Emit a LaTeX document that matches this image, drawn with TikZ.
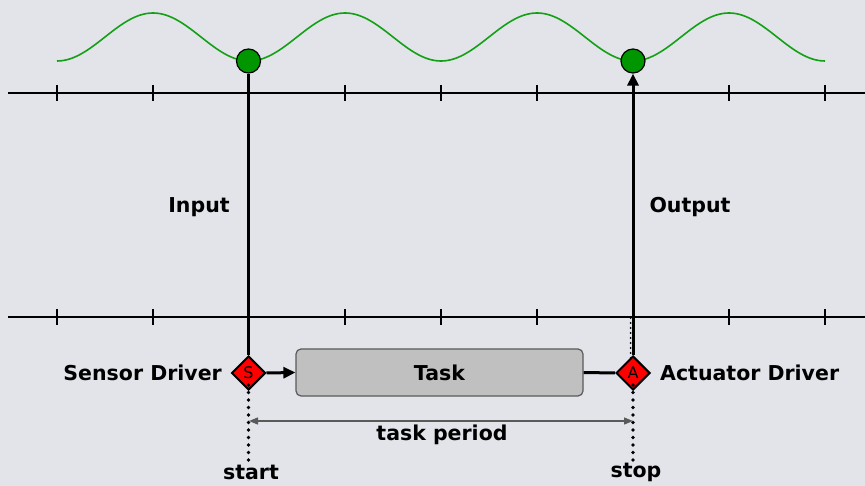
\documentclass[tikz,border=0pt]{standalone}
\usepackage{fontspec}
\setmainfont{DejaVu Sans}
\usetikzlibrary{shapes.geometric,arrows.meta}
\definecolor{bg}{RGB}{226,228,234}
\definecolor{wave}{RGB}{20,160,20}
\definecolor{dotg}{RGB}{0,150,0}
\definecolor{taskfill}{RGB}{192,192,192}
\definecolor{taskedge}{RGB}{90,90,90}
\definecolor{periodc}{RGB}{90,90,90}
\tikzset{
  lbl/.style={font=\bfseries\fontsize{20.5}{24}\selectfont, inner sep=0pt},
  axis/.style={line width=2pt, black},
  tick/.style={line width=2pt, black},
  gdot/.style={circle, fill=dotg, draw=black, line width=1.2pt, minimum size=24pt, inner sep=0pt},
  drv/.style={diamond, fill=red, draw=black, line width=2pt, minimum size=34pt, inner sep=0pt, font=\fontsize{16}{16}\selectfont},
  taskbox/.style={rectangle, rounded corners=5pt, fill=taskfill, draw=taskedge, line width=1.2pt, minimum width=287pt, minimum height=47pt, inner sep=0pt, font=\bfseries\fontsize{20.5}{24}\selectfont},
  sig/.style={line width=3pt, black},
  dotline/.style={line width=3.6pt, line cap=round, dash pattern=on 0pt off 7.5pt, black},
}
\begin{document}
\begin{tikzpicture}[x=1pt,y=-1pt]
\fill[bg] (0,0) rectangle (865,486);
\useasboundingbox (0,0) rectangle (865,486);
% axes
\coordinate (ta0) at (8,93); \coordinate (ta1) at (865,93);
\coordinate (ba0) at (8,317); \coordinate (ba1) at (865,317);
\draw[axis] (ta0) -- (ta1);
\draw[axis] (ba0) -- (ba1);
\foreach \t in {57,153,249,345,441,537,633,729,825}{
  \draw[tick] (\t,85) -- (\t,101);
  \draw[tick] (\t,309) -- (\t,325);
}
% wave
\draw[wave, line width=1.6pt, smooth] plot[domain=57:825, samples=161] (\x,{37+24*cos(1.875*(\x-57))});
% dots
\node[gdot] (in) at (248.5,61) {};
\node[gdot] (out) at (633,61) {};
% drivers
\node[drv] (S) at (248.5,373) {S};
\node[drv] (A) at (633,373) {A};
\node[taskbox] (task) at (439.5,372.5) {Task};
% signals
\draw[sig] (in.south) -- (S.north);
\draw[sig, -{Triangle[length=12pt,width=11pt]}] (A.north) -- (out.south);
\draw[sig, -{Triangle[length=12pt,width=11pt]}] (S.east) -- (task.west);
\draw[sig] (task.east) -- (A.west);
% dotted
\coordinate (sd) at (248.5,462);
\coordinate (ad) at (633,462);
\coordinate (au) at (630.5,318);
\coordinate (al) at (630.5,360);
\draw[dotline] ([yshift=6pt]S.south) -- (sd);
\draw[dotline] ([yshift=6pt]A.south) -- (ad);
\draw[line width=2pt, line cap=round, dash pattern=on 0pt off 5pt] (au) -- (al);
% period
\coordinate (p0) at (249,421); \coordinate (p1) at (633,421);
\draw[periodc, line width=1.3pt, {Triangle[length=9pt,width=7pt]}-{Triangle[length=9pt,width=7pt]}] (p0) -- (p1);
\node[lbl] (period) at (442,435) {task period};
% labels
\node[lbl] (inl) at (199,207) {Input};
\node[lbl] (outl) at (690,207) {Output};
\node[lbl, anchor=east] (sdl) at (222,373) {Sensor Driver};
\node[lbl, anchor=west] (adl) at (660,373) {Actuator Driver};
\node[lbl] (startl) at (251,472) {start};
\node[lbl] (stopl) at (636,472) {stop};
\end{tikzpicture}
\end{document}
